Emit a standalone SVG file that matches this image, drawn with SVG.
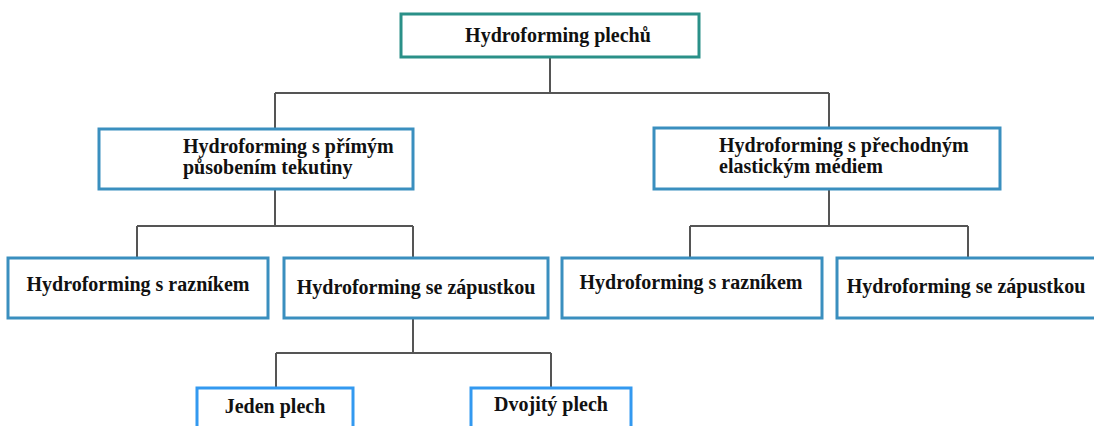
<svg xmlns="http://www.w3.org/2000/svg" width="1094" height="426" viewBox="0 0 1094 426">
<style>
.box{fill:#fff;stroke:#3a8fbf;stroke-width:3}
.top{stroke:#2a9088}
.leaf{stroke:#3399f0}
.t{font-family:"Liberation Serif","Times New Roman",serif;font-weight:bold;font-size:20px;fill:#111}
.c{fill:none;stroke:#555;stroke-width:2}
</style>
<rect width="1094" height="426" fill="#fff"/>
<g id="connectors">
<path class="c" d="M550,57V93M275,93H829M275,93V128M829,93V127"/>
<path class="c" d="M275,189V226M137,226H413M137,226V258M413,226V258"/>
<path class="c" d="M829,189V226M690,226H968M690,226V258M968,226V258"/>
<path class="c" d="M413,318V353M276,353H551M276,353V388M551,353V388"/>
</g>
<g id="n1"><rect class="box top" x="401" y="14" width="298" height="43"/><text class="t" x="558" y="42" text-anchor="middle">Hydroforming plechů</text></g>
<g id="n2"><rect class="box" x="99" y="129" width="314" height="60"/><text class="t" x="183" y="153">Hydroforming s přímým</text><text class="t" x="183" y="174">působením tekutiny</text></g>
<g id="n3"><rect class="box" x="654" y="128" width="346" height="61"/><text class="t" x="719" y="152">Hydroforming s přechodným</text><text class="t" x="719" y="173">elastickým médiem</text></g>
<g id="n4"><rect class="box" x="8" y="258" width="260" height="60"/><text class="t" x="138" y="291" text-anchor="middle">Hydroforming s razníkem</text></g>
<g id="n5"><rect class="box" x="284" y="258" width="264" height="60"/><text class="t" x="416" y="294" text-anchor="middle">Hydroforming se zápustkou</text></g>
<g id="n6"><rect class="box" x="562" y="258" width="260" height="60"/><text class="t" x="691" y="289" text-anchor="middle">Hydroforming s razníkem</text></g>
<g id="n7"><rect class="box" x="837" y="258" width="262" height="60"/><text class="t" x="966" y="293" text-anchor="middle">Hydroforming se zápustkou</text></g>
<g id="n8"><rect class="box leaf" x="197" y="388" width="156" height="50"/><text class="t" x="275" y="413" text-anchor="middle">Jeden plech</text></g>
<g id="n9"><rect class="box leaf" x="471" y="388" width="160" height="50"/><text class="t" x="551" y="411" text-anchor="middle">Dvojitý plech</text></g>
</svg>
